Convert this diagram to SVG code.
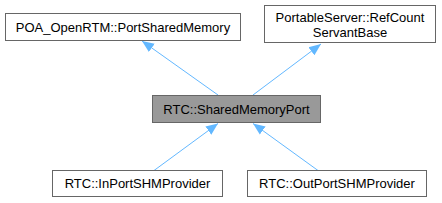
<svg xmlns="http://www.w3.org/2000/svg" width="442" height="203" viewBox="0 0 442 203">
<style>
.box{fill:#ffffff;stroke:#666666;stroke-width:1}
.focus{fill:#999999;stroke:#666666;stroke-width:1}
text{font-family:"Liberation Sans",Arial,sans-serif;font-size:13px;fill:#000000;text-anchor:middle}
.edge{stroke:#63b8ff;stroke-width:1;fill:none;marker-end:url(#arr)}
</style>
<defs>
<marker id="arr" viewBox="0 0 12 12" refX="12" refY="6" markerWidth="12" markerHeight="12" orient="auto" markerUnits="userSpaceOnUse">
<path d="M0,1 L12,6 L0,11 Z" fill="#63b8ff"/>
</marker>
</defs>
<g id="edges">
<line class="edge" x1="218" y1="95" x2="142" y2="41"/>
<line class="edge" x1="253" y1="95" x2="321" y2="44"/>
<line class="edge" x1="154" y1="170.5" x2="218" y2="123.5"/>
<line class="edge" x1="318" y1="170.5" x2="253" y2="123.5"/>
</g>
<g id="node_poa">
<rect class="box" x="5.5" y="13.5" width="235" height="27"/>
<text x="123" y="31.5">POA_OpenRTM::PortSharedMemory</text>
</g>
<g id="node_refcount">
<rect class="box" x="264.5" y="5.5" width="171" height="37"/>
<text x="350" y="22">PortableServer::RefCount</text>
<text x="350" y="37">ServantBase</text>
</g>
<g id="node_shm">
<rect class="focus" x="152.5" y="95.5" width="168" height="27"/>
<text x="236.5" y="113.5">RTC::SharedMemoryPort</text>
</g>
<g id="node_in">
<rect class="box" x="52.5" y="170.5" width="170" height="26"/>
<text x="137.5" y="188">RTC::InPortSHMProvider</text>
</g>
<g id="node_out">
<rect class="box" x="247.5" y="170.5" width="179" height="26"/>
<text x="337" y="188">RTC::OutPortSHMProvider</text>
</g>
</svg>
